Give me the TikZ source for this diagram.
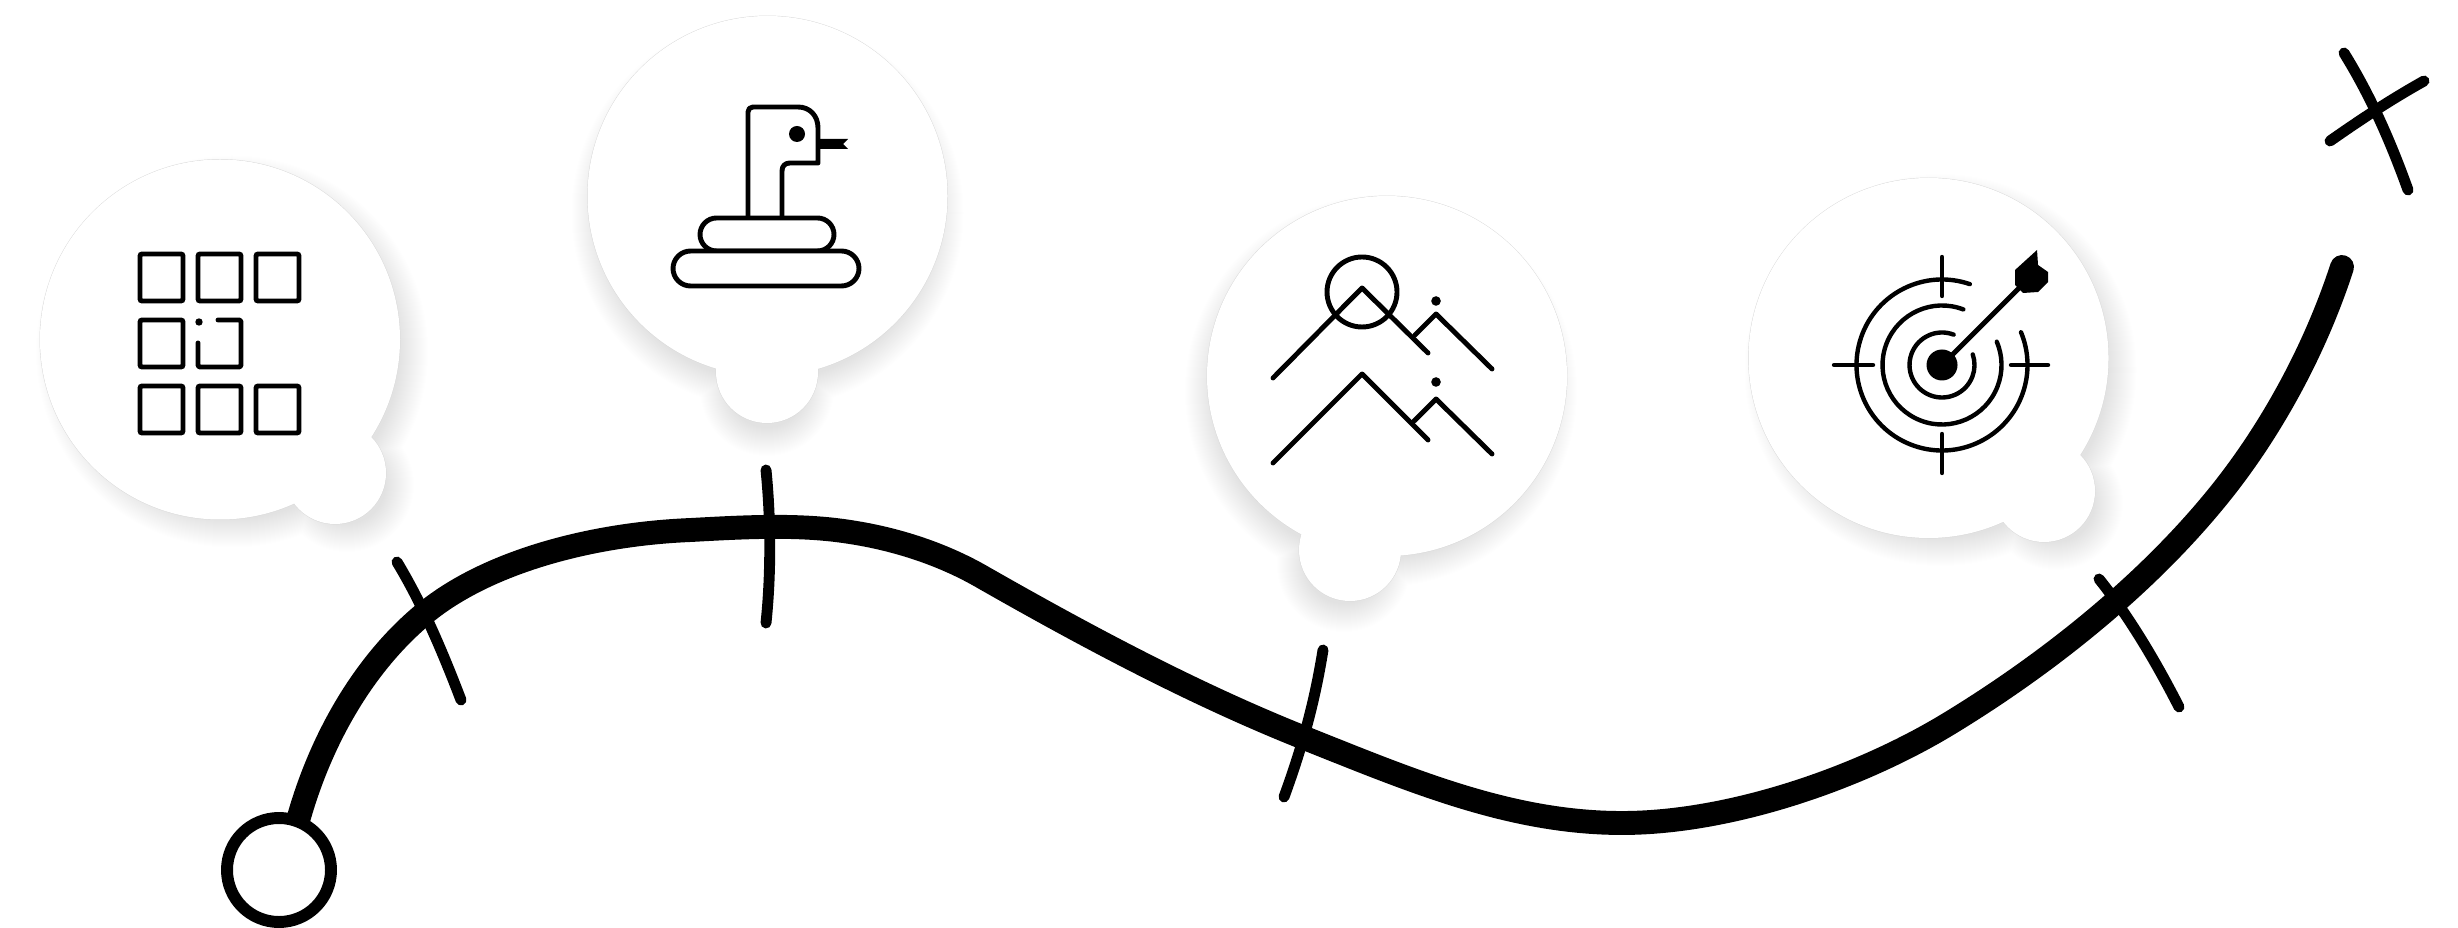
\documentclass[tikz,border=0pt]{standalone}
\usetikzlibrary{calc}
\newcommand{\speechbubble}[6]{%
  \begin{scope}[shift={(#5,#6)}]
    \foreach \k in {16,15,...,-12}{
      \fill[black,opacity=.0045] (#1,#2) circle ({180+\k}) (#3,#4) circle ({51+\k});
    }
  \end{scope}
  \draw[rim] (#1,#2) circle (180) (#3,#4) circle (51);
  \fill[white] (#1,#2) circle (180) (#3,#4) circle (51);
}
\tikzset{
  rim/.style={draw=black!15,line width=.25pt},
  icon/.style={draw=black,line width=1.4pt,line cap=round,line join=round},
  thinicon/.style={draw=black,line width=1.25pt,line cap=round,line join=round},
  iconsq/.style={draw=black,line width=1.4pt,rounded corners=.6pt},
  pill/.style={draw=black,fill=white,line width=1.4pt},
  road/.style={draw=black,line width=6.8pt,line cap=round,line join=round},
  tickmark/.style={draw=black,line width=3.1pt,line cap=round},
  startring/.style={draw=black,fill=white,line width=3.4pt},
}
\begin{document}
\begin{tikzpicture}[x=.01cm,y=-.01cm]
\useasboundingbox (0,0) rectangle (2458,928);
\fill[white] (0,0) rectangle (2458,928);

% bubbles
\speechbubble{220}{339.5}{335}{473}{12}{12}
\speechbubble{767.5}{196}{767}{372}{0}{17}
\speechbubble{1387}{376}{1350}{550}{-6}{15}
\speechbubble{1928.5}{358}{2044}{491}{12}{12}

% grid icon
\foreach \yy in {254,386}{
  \foreach \xx in {140,198,256}{
    \draw[iconsq] (\xx,\yy) rectangle +(43,47);
  }
}
\draw[iconsq] (140,320) rectangle +(43,47);
\draw[icon,rounded corners=.6pt] (218,320) -- (241,320) -- (241,367) -- (198,367) -- (198,343);
\fill (199,322) circle (3.7);

% snake icon
\draw[icon] (748,217) -- (748,112) .. controls (748,109) and (750,107) .. (753,107) -- (798,107)
  .. controls (810,107) and (818,116) .. (818,128) -- (818,163) -- (790,163)
  .. controls (785,163) and (782,166) .. (782,171) -- (782,217);
\fill (797,134) circle (8);
\fill (820,139) -- (848,139) -- (843,144) -- (848,149) -- (820,149) -- cycle;
\draw[pill,rounded corners=4.7pt] (700,218) rectangle (834,251);
\draw[pill,rounded corners=5pt] (673,251) rectangle (859,286);

% mountains icon
\draw[icon] (1362,292) circle (35);
\draw[icon] (1273,378) -- (1362,288) -- (1428,353);
\draw[icon] (1415,335) -- (1436,314) -- (1492,369);
\fill (1436,301) circle (4.8);
\draw[icon] (1273,463) -- (1362,374) -- (1428,440);
\draw[icon] (1414,421) -- (1436,399) -- (1492,454);
\fill (1436,382) circle (4.8);

% target icon
\coordinate (tc) at (1942,365);
\fill (tc) circle (15.5);
\draw[thinicon] ($(tc)+(-71:85.5)$) arc[start angle=-71,end angle=-382.5,radius=85.5];
\draw[thinicon] ($(tc)+(-69:59.5)$) arc[start angle=-69,end angle=-383,radius=59.5];
\draw[thinicon] ($(tc)+(-69:32.5)$) arc[start angle=-69,end angle=-379,radius=32.5];
\draw[thinicon] (1942,257) -- (1942,296) (1942,434) -- (1942,473) (1834,365) -- (1873,365) (2011,365) -- (2048,365);
\draw[icon] (tc) -- (2022,285);
\fill (2015,270) -- (2037,250) -- (2038,265) -- (2048,272) -- (2048,282) -- (2038,292) -- (2023,293) -- (2015,285) -- cycle;

% road
\draw[road] (293,838) -- (299,817)
  .. controls (321,740) and (363,664) .. (425,613)
  .. controls (487,562) and (591,534) .. (691,530)
  .. controls (745,527) and (800,524) .. (850,532)
  .. controls (896,539) and (943,554) .. (984,578)
  .. controls (1084,635) and (1192,693) .. (1302,737)
  .. controls (1410,780) and (1510,823) .. (1622,823)
  .. controls (1730,823) and (1860,778) .. (1950,723)
  .. controls (2050,662) and (2150,582) .. (2223,490)
  .. controls (2272,428) and (2315,350) .. (2342,267);

% start ring
\draw[startring] (279,870) circle (52);

% tick marks
\draw[tickmark] (397,562) .. controls (420,600) and (440,645) .. (461,700);
\draw[tickmark] (766,470) .. controls (771,520) and (771,575) .. (766,623);
\draw[tickmark] (1323,650) .. controls (1315,700) and (1303,745) .. (1284,797);
\draw[tickmark] (2099,579) .. controls (2128,615) and (2155,660) .. (2179,707);
\draw[tickmark] (2344,53) .. controls (2370,95) and (2390,140) .. (2408,190);
\draw[tickmark] (2330,141) .. controls (2360,120) and (2390,100) .. (2424,81);
\end{tikzpicture}
\end{document}
